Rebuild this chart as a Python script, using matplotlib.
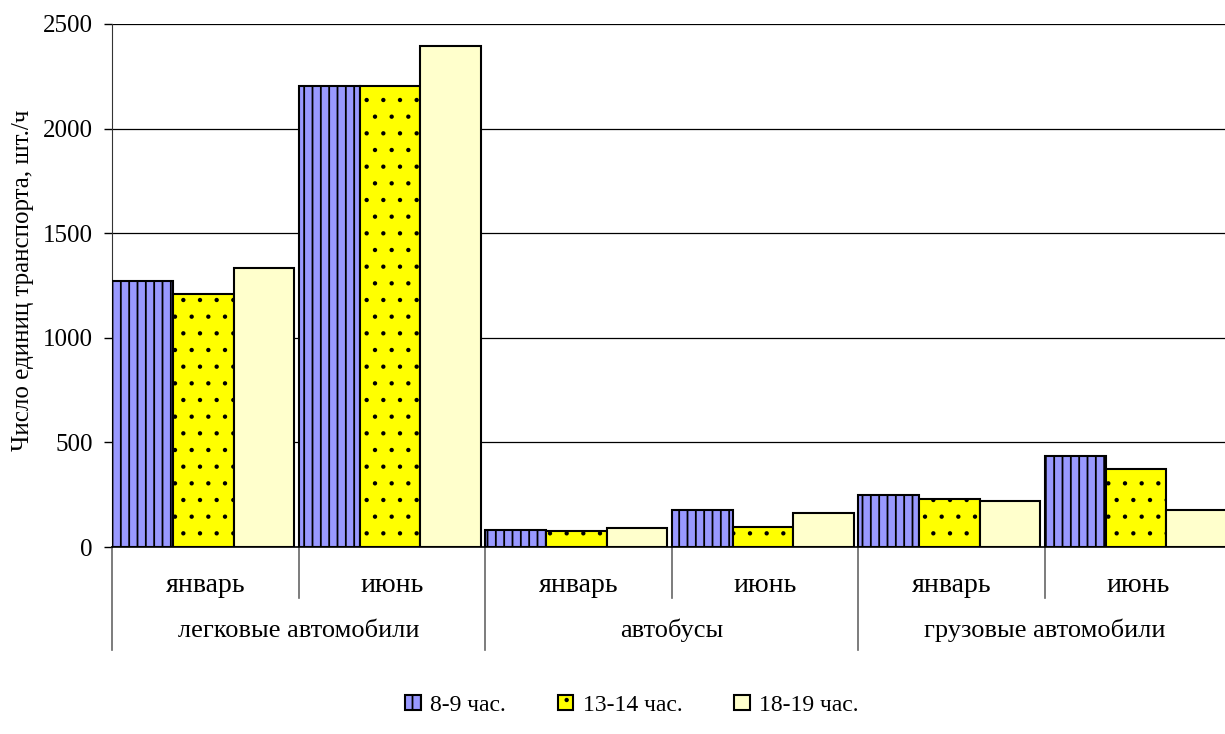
import numpy as np
import matplotlib.pyplot as plt
import matplotlib.hatch as mhatch
from matplotlib.transforms import blended_transform_factory

plt.rcParams['font.family'] = ['Liberation Serif', 'DejaVu Serif']
plt.rcParams['hatch.color'] = 'black'
plt.rcParams['hatch.linewidth'] = 1.3
# мелкие точки для штриховки
mhatch.SmallFilledCircles.size = 0.075

# данные: транспорт по сезонам и часам
vehicles = ['легковые автомобили', 'автобусы', 'грузовые автомобили']
months = ['январь', 'июнь']
hours = ['8-9 час.', '13-14 час.', '18-19 час.']

h_8_9 = [1271, 2204, 81, 178, 250, 437]
h_13_14 = [1209, 2204, 78, 97, 229, 373]
h_18_19 = [1334, 2395, 89, 161, 221, 177]

colors = ['#9999FF', '#FFFF00', '#FFFFCC']
hatches = ['||', '.', None]

fig = plt.figure(figsize=(12.25, 7.34), dpi=100)
ax = fig.add_axes([112 / 1225, 187 / 734, 1119 / 1225, 523 / 734])

n = len(h_8_9)
x = np.arange(n)
w = 0.325
for i, (vals, c, h, lab) in enumerate(zip([h_8_9, h_13_14, h_18_19], colors, hatches, hours)):
    ax.bar(x + (i - 1) * w - 0.01, vals, width=w, color=c, hatch=h,
           edgecolor='black', linewidth=1.5, label=lab, zorder=3)

ax.set_xlim(-0.5, n - 0.5)
ax.set_ylim(0, 2500)
ax.set_yticks(range(0, 2501, 500))
ax.tick_params(axis='y', labelsize=18, length=6, width=1, direction='out', pad=8)
ax.grid(axis='y', color='black', linewidth=0.9, zorder=0)
ax.set_xticks([])
for s in ['top', 'right']:
    ax.spines[s].set_visible(False)
ax.spines['left'].set_color('#333333')
ax.spines['bottom'].set_linewidth(1.2)
ax.set_ylabel('Число единиц транспорта, шт./ч', fontsize=18)
ax.yaxis.set_label_coords(-78 / 1119, 0.51)

# двухуровневая подпись оси категорий
px = 1 / 523  # доля высоты осей на пиксель
tr = blended_transform_factory(ax.transData, ax.transAxes)
for k in range(n + 1):
    xb = k - 0.5
    depth = 103 if k % 2 == 0 else 51
    ax.plot([xb, xb], [0, -depth * px], transform=tr, color='#666666',
            linewidth=1.2, clip_on=False)
for k in range(n):
    ax.text(k, -45 * px, months[k % 2], transform=tr, ha='center', va='baseline', fontsize=20)
for j, v in enumerate(vehicles):
    ax.text(2 * j + 0.5, -90 * px, v, transform=tr, ha='center', va='baseline', fontsize=19)

fig.legend(loc='lower center', bbox_to_anchor=(632 / 1225, -0.004), ncol=3, frameon=False,
           fontsize=17, handlelength=0.65, handleheight=0.65, columnspacing=2.2,
           handletextpad=0.4)

fig.savefig('out.png', dpi=100)
